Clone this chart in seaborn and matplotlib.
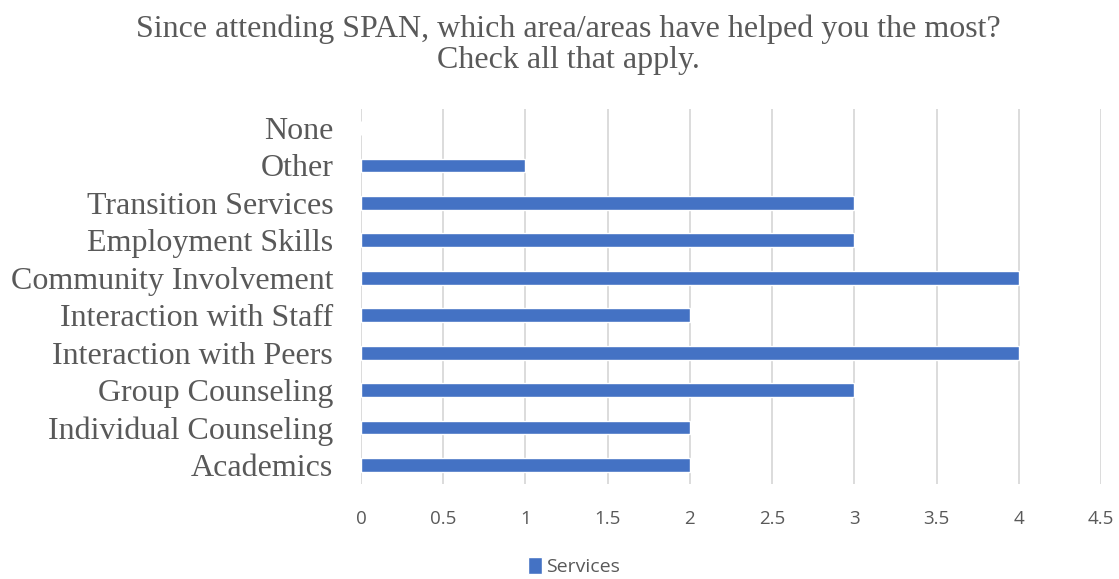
import matplotlib
matplotlib.use("Agg")
import matplotlib.pyplot as plt
import seaborn as sns
import pandas as pd
from matplotlib.patches import Patch

categories = ["None", "Other", "Transition Services", "Employment Skills",
              "Community Involvement", "Interaction with Staff",
              "Interaction with Peers", "Group Counseling",
              "Individual Counseling", "Academics"]
values = [0, 1, 3, 3, 4, 2, 4, 3, 2, 2]
series_name = "Services"
x_ticks = [0, 0.5, 1, 1.5, 2, 2.5, 3, 3.5, 4, 4.5]
title_text = "Since attending SPAN, which area/areas have helped you the most?\nCheck all that apply."

df = pd.DataFrame({"category": categories, "value": values})

sns.set_theme(style="white")
plt.rcParams["font.family"] = ["Liberation Serif", "DejaVu Serif"]

BLUE = "#4472C4"
TEXT = "#595959"
GRID = "#D9D9D9"

fig = plt.figure(figsize=(11.19, 5.79), dpi=100)
ax = fig.add_axes([0.3226, 0.1646, 0.9839 - 0.3226, 0.8112 - 0.1646])

sns.barplot(data=df, y="category", x="value", order=categories,
            color=BLUE, saturation=1, width=0.37, ax=ax)

ax.set_xlim(0, 4.5)
ax.set_ylim(len(categories) - 0.5, -0.5)
ax.set_xticks(x_ticks)
ax.set_xticklabels([f"{t:g}" for t in x_ticks], family=["Open Sans", "DejaVu Sans"],
                   fontsize=13.5, color=TEXT)
ax.set_yticks(range(len(categories)))
ax.set_yticklabels(categories, fontsize=23, color=TEXT)
ax.tick_params(axis="x", length=0, pad=19)
ax.tick_params(axis="y", length=0, pad=20)
ax.xaxis.grid(True, color=GRID, linewidth=1.3)
ax.set_axisbelow(True)
for s in ax.spines.values():
    s.set_visible(False)
ax.set_xlabel("")
ax.set_ylabel("")

fig.text(0.508, 0.923, title_text, ha="center", va="center",
         fontsize=23, color=TEXT, linespacing=1.12)

fig.legend(handles=[Patch(facecolor=BLUE, label=series_name)],
           loc="lower center", bbox_to_anchor=(0.513, -0.025), frameon=False,
           prop={"family": ["Open Sans", "DejaVu Sans"], "size": 14},
           labelcolor=TEXT, handlelength=0.7, handleheight=1.0, handletextpad=0.2)

fig.savefig("out.png", dpi=100, facecolor="white")
